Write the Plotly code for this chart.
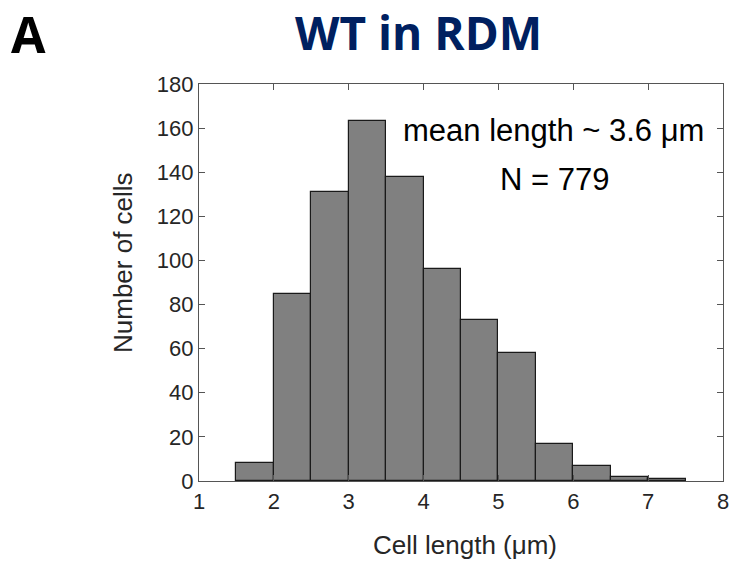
import plotly.graph_objects as go

# Data: histogram of cell lengths (bin width 0.5 µm)
bin_left_edges = [1.5, 2.0, 2.5, 3.0, 3.5, 4.0, 4.5, 5.0, 5.5, 6.0, 6.5, 7.0]
bin_width = 0.5
counts = [8, 85, 131, 163, 138, 96, 73, 58, 17, 7, 2, 1]
x_ticks = [1, 2, 3, 4, 5, 6, 7, 8]
y_ticks = [0, 20, 40, 60, 80, 100, 120, 140, 160, 180]

centers = [e + bin_width / 2 for e in bin_left_edges]

fig = go.Figure()
fig.add_trace(go.Bar(
    x=centers, y=counts, width=[bin_width] * len(counts),
    marker=dict(color="#808080", line=dict(color="#1a1a1a", width=1.2)),
    showlegend=False,
))

W, H = 736, 562
L, R, T, B = 199, 729, 84, 481  # R compensates for renderer's width shrink


def px(xp):
    # map a target pixel position to paper coordinates (target plot spans 199..723)
    return (xp - 199) / (723 - 199)


def py(yp):
    return (B - yp) / (B - T)


axis_common = dict(
    showline=True, linecolor="#555555", linewidth=1.3, mirror="allticks",
    ticks="inside", ticklen=6, tickcolor="#555555", tickwidth=1,
    showgrid=False, zeroline=False,
    tickfont=dict(family="Liberation Sans, Arial", size=22, color="#262626"),
)

fig.update_layout(
    width=W, height=H, autosize=False,
    margin=dict(l=L, r=W - R, t=T, b=H - B, pad=0),
    plot_bgcolor="white", paper_bgcolor="white",
    bargap=0,
    xaxis=dict(range=[1, 8], tickvals=x_ticks, **axis_common),
    yaxis=dict(range=[0, 180], tickvals=y_ticks, **axis_common),
    annotations=[
        dict(text="<b>WT in RDM</b>", x=px(418), y=py(32), xref="paper", yref="paper",
             showarrow=False, xanchor="center", yanchor="middle",
             font=dict(family="Open Sans", size=46, color="#002060")),
        dict(text="<b>A</b>", x=px(28), y=py(34), xref="paper", yref="paper",
             showarrow=False, xanchor="center", yanchor="middle",
             font=dict(family="Open Sans", size=50, color="black")),
        dict(text="mean length ~ 3.6 μm", x=px(553.5), y=py(130), xref="paper", yref="paper",
             showarrow=False, xanchor="center", yanchor="middle",
             font=dict(family="Liberation Sans, Arial", size=31, color="black")),
        dict(text="N = 779", x=px(554), y=py(179), xref="paper", yref="paper",
             showarrow=False, xanchor="center", yanchor="middle",
             font=dict(family="Liberation Sans, Arial", size=31, color="black")),
        dict(text="Number of cells", x=px(123), y=py(263), xref="paper", yref="paper",
             showarrow=False, xanchor="center", yanchor="middle", textangle=-90,
             font=dict(family="Liberation Sans, Arial", size=26, color="#262626")),
        dict(text="Cell length (μm)", x=px(465), y=py(545), xref="paper", yref="paper",
             showarrow=False, xanchor="center", yanchor="middle",
             font=dict(family="Liberation Sans, Arial", size=26, color="#262626")),
    ],
)

fig.write_html(
    "out.html",
    config={"displayModeBar": False, "responsive": False},
    post_script="document.body.style.margin='0';document.body.style.overflow='hidden';",
)
